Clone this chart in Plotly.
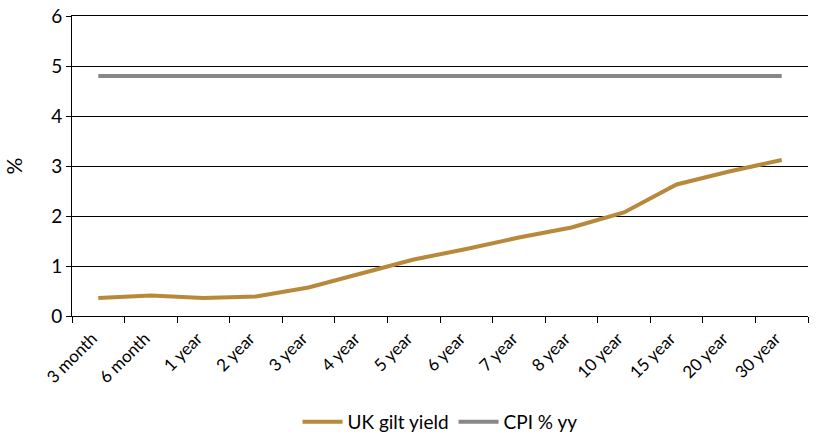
import plotly.graph_objects as go

maturities = ["3 month", "6 month", "1 year", "2 year", "3 year", "4 year", "5 year",
              "6 year", "7 year", "8 year", "10 year", "15 year", "20 year", "30 year"]
gilt_yield = [0.36, 0.41, 0.36, 0.39, 0.57, 0.85, 1.13, 1.34, 1.57, 1.77, 2.07, 2.63, 2.89, 3.12]
cpi_yy = [4.8] * len(maturities)

fig = go.Figure()
fig.add_trace(go.Scatter(x=maturities, y=gilt_yield, mode="lines", name="UK gilt yield",
                         line=dict(color="#B8893A", width=4)))
fig.add_trace(go.Scatter(x=maturities, y=cpi_yy, mode="lines", name="CPI % yy",
                         line=dict(color="#878787", width=4)))

font = "Lato, Noto Sans, sans-serif"
fig.update_layout(
    width=821, height=441,
    margin=dict(l=72, r=13, t=16, b=125, autoexpand=False),
    plot_bgcolor="white", paper_bgcolor="white",
    font=dict(family=font, size=18, color="black"),
    showlegend=True,
    legend=dict(orientation="h", x=0.5, xanchor="center", xref="paper",
                y=-0.015, yanchor="bottom", yref="container",
                font=dict(size=19), itemwidth=40, tracegroupgap=0),
    xaxis=dict(type="category", tickangle=-45, showgrid=False, showline=True,
               linecolor="black", linewidth=1, ticks="outside", tickson="boundaries",
               ticklen=6, tickcolor="black", tickfont=dict(size=17), automargin=False,
               ticklabelstandoff=5, ticklabelshift=-6, mirror=True,
               range=[-0.5, len(maturities) - 0.5]),
    yaxis=dict(range=[0, 6], tickvals=[0, 1, 2, 3, 4, 5, 6], showgrid=True,
               gridcolor="black", gridwidth=1, ticklabeloverflow="allow",
               showline=True, linecolor="black", linewidth=1, ticks="outside",
               ticklen=5, tickcolor="black", zeroline=False, automargin=False,
               title=dict(text="%", standoff=22, font=dict(size=21)), tickfont=dict(size=19)),
)

fig.write_html("out.html", config={"displayModeBar": False},
               post_script="document.body.style.margin='0';")
